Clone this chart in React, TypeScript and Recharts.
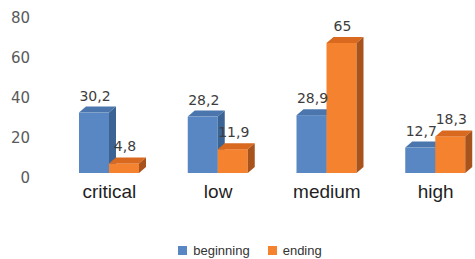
import { BarChart, Bar, XAxis, YAxis, Legend, LabelList } from "recharts";

const categories = ["critical", "low", "medium", "high"];
const beginningValues = [30.2, 28.2, 28.9, 12.7];
const endingValues = [4.8, 11.9, 65, 18.3];
const yTicks = [0, 20, 40, 60, 80];

const data = categories.map((name, i) => ({
  name,
  beginning: beginningValues[i],
  ending: endingValues[i],
}));

const BLUE = { front: "#5887c4", top: "#4a76ad", side: "#3b6394" };
const ORANGE = { front: "#f5822f", top: "#d8691f", side: "#a9531c" };

const DX = 7;
const DY = 6;

const make3DBar = (c: typeof BLUE) => (props: any) => {
  const { x, y, width, height } = props;
  if (height == null || width == null) return null;
  return (
    <g>
      <rect x={x} y={y} width={width} height={height} fill={c.front} />
      <polygon
        points={`${x},${y} ${x + DX},${y - DY} ${x + width + DX},${y - DY} ${x + width},${y}`}
        fill={c.top}
      />
      <polygon
        points={`${x + width},${y} ${x + width + DX},${y - DY} ${x + width + DX},${y + height - DY} ${x + width},${y + height}`}
        fill={c.side}
      />
    </g>
  );
};

const valueLabel = (props: any) => {
  const { x, y, width, value } = props;
  return (
    <text
      x={x + width / 2 + 1}
      y={y - 12}
      textAnchor="middle"
      fontSize={14}
      fontFamily="DejaVu Sans"
      fill="#3d3d3d"
    >
      {String(value).replace(".", ",")}
    </text>
  );
};

const legendItems = [
  { label: "beginning", color: BLUE.front },
  { label: "ending", color: ORANGE.front },
];

const LegendContent = () => (
  <div
    style={{
      display: "flex",
      justifyContent: "center",
      alignItems: "center",
      fontFamily: "Liberation Sans, Arial",
      fontSize: 13,
      color: "#333",
      height: 18,
    }}
  >
    {legendItems.map((it) => (
      <span key={it.label} style={{ display: "flex", alignItems: "center", margin: "0 9px" }}>
        <span
          style={{ width: 9, height: 9, background: it.color, display: "inline-block", marginRight: 6 }}
        />
        {it.label}
      </span>
    ))}
  </div>
);

export default function App() {
  return (
    <div
      style={{
        position: "absolute",
        left: 0,
        top: 0,
        width: 475,
        height: 259,
        overflow: "hidden",
        background: "#fff",
        fontFamily: "Liberation Sans, Arial",
      }}
    >
      <BarChart
        width={500}
        height={259}
        data={data}
        margin={{ top: 13, right: 10, bottom: 0, left: 10 }}
        barGap={0}
      >
        <XAxis
          dataKey="name"
          axisLine={false}
          tickLine={false}
          height={68}
          tickMargin={6}
          tick={{ fontSize: 19, fill: "#1f1f1f", fontFamily: "Liberation Sans, Arial" }}
          interval={0}
        />
        <YAxis
          domain={[0, 80]}
          ticks={yTicks}
          axisLine={false}
          tickLine={false}
          width={45}
          tickMargin={19}
          tick={{ fontSize: 15, fill: "#5a5a5a", fontFamily: "DejaVu Sans", dy: 5 }}
        />
        <Legend verticalAlign="bottom" height={18} content={<LegendContent />} />
        <Bar dataKey="beginning" barSize={30} isAnimationActive={false} shape={make3DBar(BLUE)}>
          <LabelList dataKey="beginning" content={valueLabel} />
        </Bar>
        <Bar dataKey="ending" barSize={30} isAnimationActive={false} shape={make3DBar(ORANGE)}>
          <LabelList dataKey="ending" content={valueLabel} />
        </Bar>
      </BarChart>
    </div>
  );
}
